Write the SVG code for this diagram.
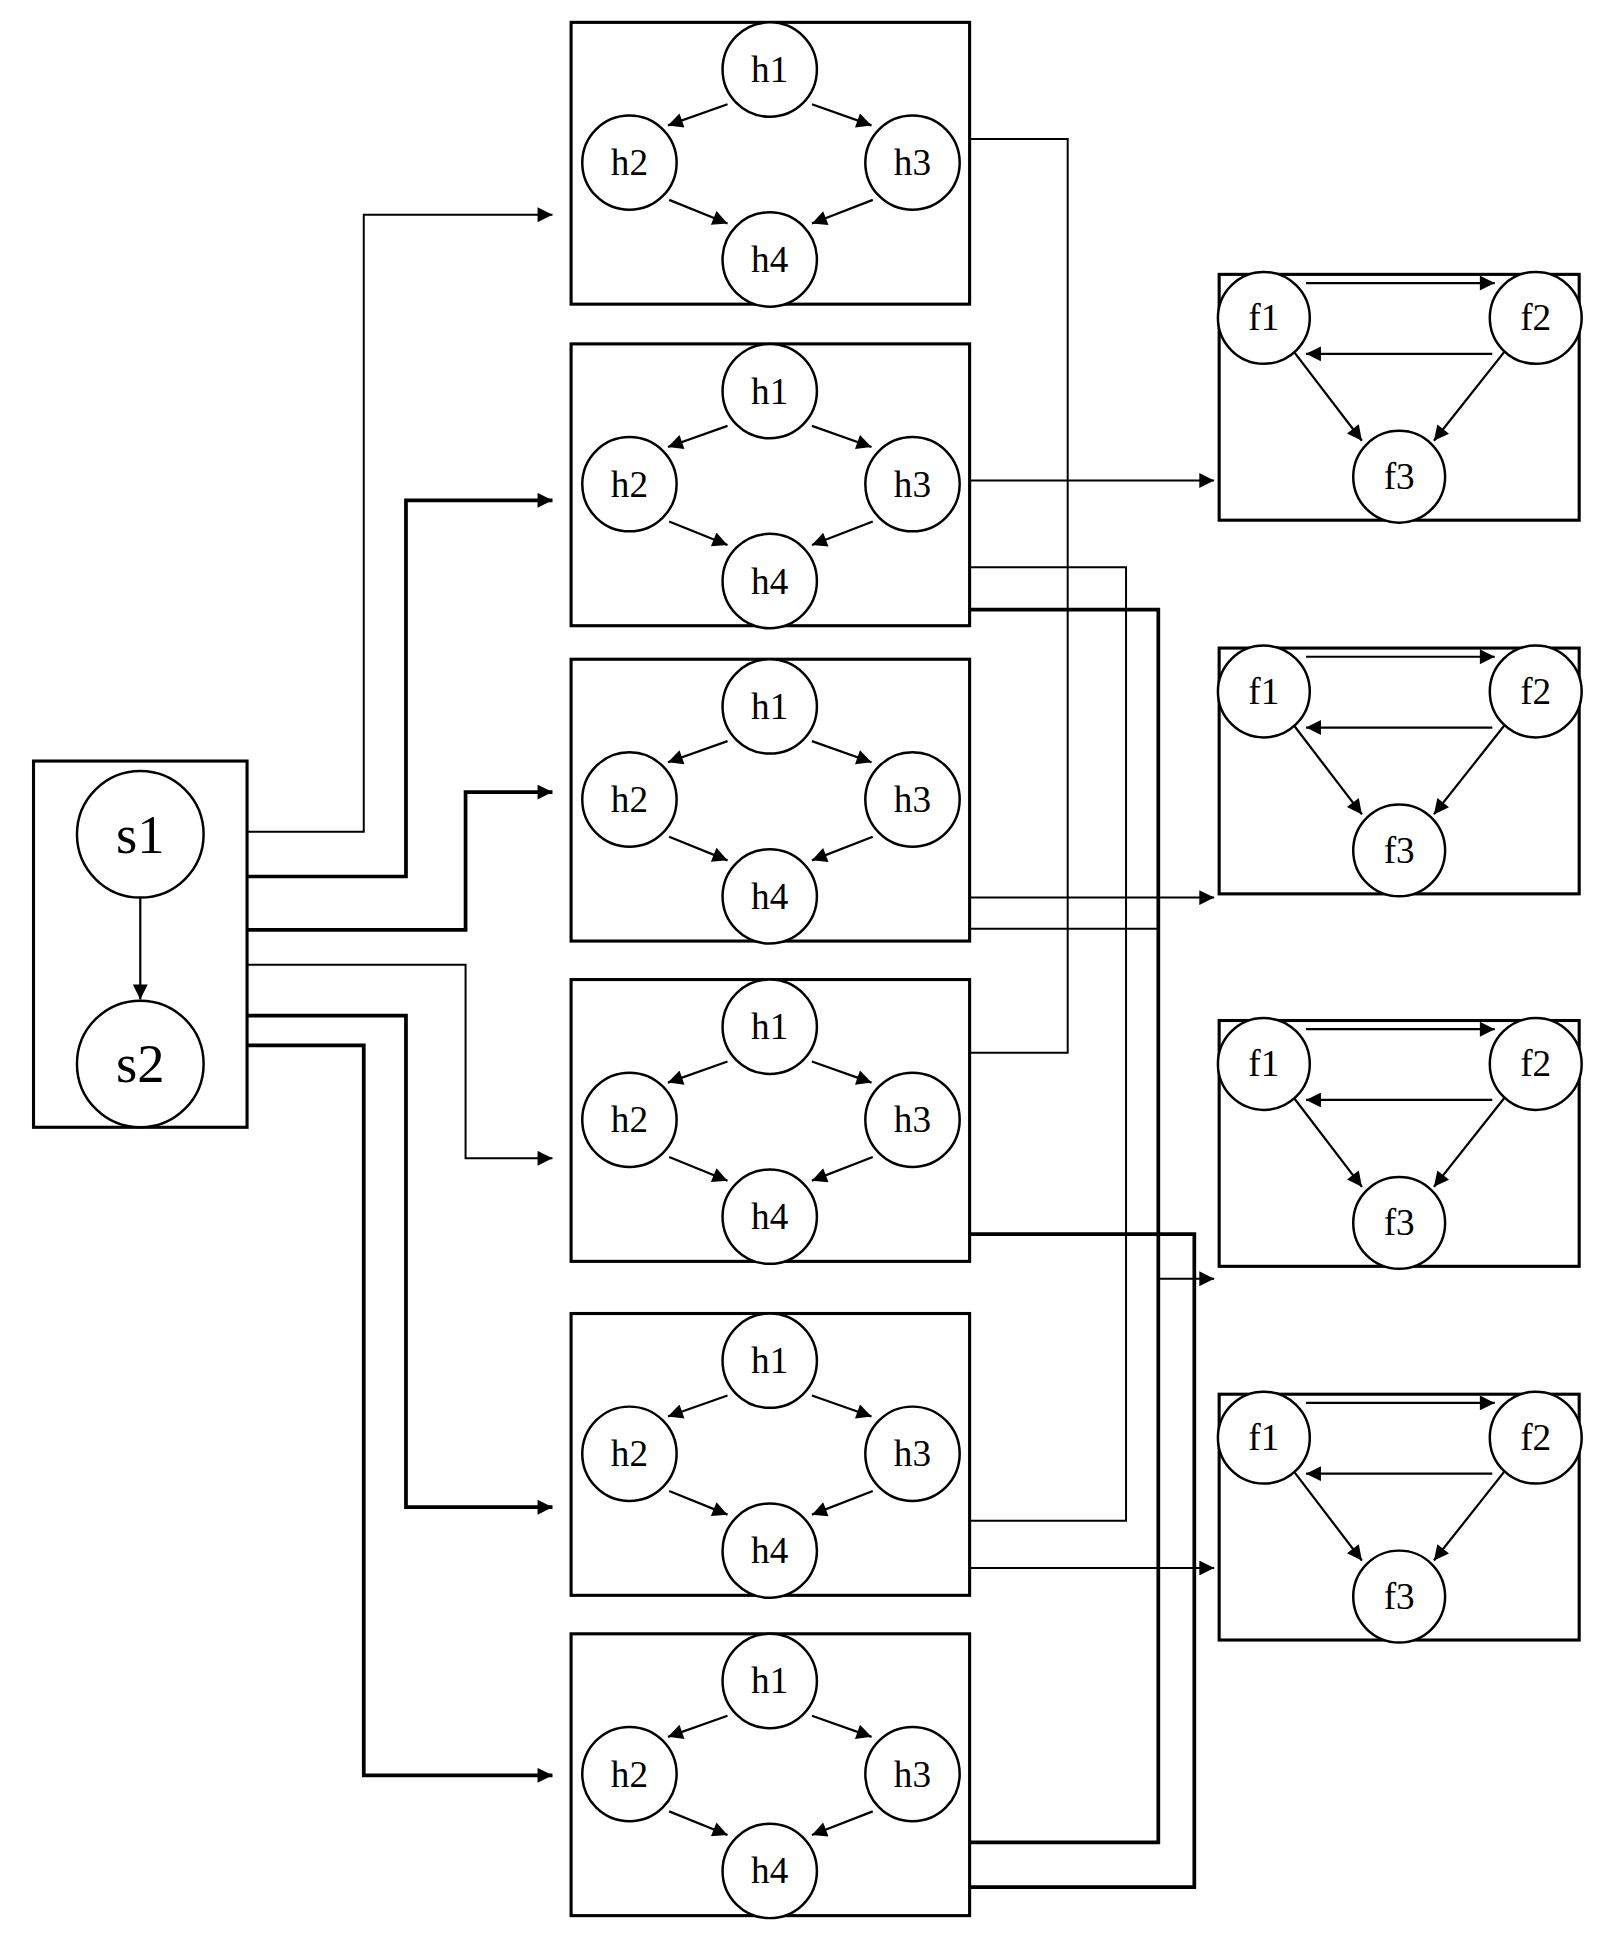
<svg xmlns="http://www.w3.org/2000/svg" width="1614" height="1954" viewBox="0 0 1614 1954">
<style>
.box{fill:none;stroke:#000;stroke-width:2.5}
.nd{fill:#fff;stroke:#000;stroke-width:2}
.t{font-family:"Liberation Serif",serif;font-size:30px;text-anchor:middle;dominant-baseline:central}
.ts{font-family:"Liberation Serif",serif;font-size:44px;text-anchor:middle;dominant-baseline:central}
.e{fill:none;stroke:#000;stroke-width:1.8;marker-end:url(#a)}
.c{fill:none;stroke:#000;stroke-width:1.6}
.ck{fill:none;stroke:#000;stroke-width:3}
</style>
<defs>
<marker id="a" viewBox="0 0 10 10" refX="10" refY="5" markerWidth="17" markerHeight="12" markerUnits="userSpaceOnUse" orient="auto"><path d="M0,0L10,5L0,10z"/></marker>
<marker id="b" viewBox="0 0 10 10" refX="10" refY="5" markerWidth="17" markerHeight="12" markerUnits="userSpaceOnUse" orient="auto"><path d="M0,0L10,5L0,10z"/></marker>
<g id="H">
<rect class="box" x="0" y="0" width="321" height="227"/>
<line class="e" x1="126" y1="66" x2="78" y2="83"/>
<line class="e" x1="194" y1="66" x2="242" y2="83"/>
<line class="e" x1="79" y1="143" x2="126" y2="162"/>
<line class="e" x1="243" y1="143" x2="194" y2="162"/>
<circle class="nd" cx="160" cy="38" r="38"/><text class="t" x="160" y="38">h1</text>
<circle class="nd" cx="47" cy="113" r="38"/><text class="t" x="47" y="113">h2</text>
<circle class="nd" cx="275" cy="113" r="38"/><text class="t" x="275" y="113">h3</text>
<circle class="nd" cx="160" cy="191" r="38"/><text class="t" x="160" y="191">h4</text>
</g>
<g id="F">
<rect class="box" x="0" y="0" width="290" height="198"/>
<line class="e" x1="70" y1="7" x2="222" y2="7"/>
<line class="e" x1="220" y1="64" x2="70" y2="64"/>
<line class="e" x1="60" y1="62" x2="115" y2="134"/>
<line class="e" x1="230" y1="62" x2="173" y2="134"/>
<circle class="nd" cx="36" cy="35" r="37"/><text class="t" x="36" y="35">f1</text>
<circle class="nd" cx="255" cy="35" r="37"/><text class="t" x="255" y="35">f2</text>
<circle class="nd" cx="145" cy="163" r="37"/><text class="t" x="145" y="163">f3</text>
</g>
</defs>
<g transform="scale(1.2415)">
<g id="s">
<rect class="box" x="27" y="613" width="172" height="295"/>
<line class="e" x1="113" y1="722" x2="113" y2="805"/>
<circle class="nd" cx="113" cy="672" r="51"/><text class="ts" x="113" y="672">s1</text>
<circle class="nd" cx="113" cy="857" r="51"/><text class="ts" x="113" y="857">s2</text>
</g>
<g id="h-1"><use href="#H" x="460" y="18"/></g>
<g id="h-2"><use href="#H" x="460" y="277"/></g>
<g id="h-3"><use href="#H" x="460" y="531"/></g>
<g id="h-4"><use href="#H" x="460" y="789"/></g>
<g id="h-5"><use href="#H" x="460" y="1058"/></g>
<g id="h-6"><use href="#H" x="460" y="1316"/></g>
<g id="f-1"><use href="#F" x="982" y="221"/></g>
<g id="f-2"><use href="#F" x="982" y="522"/></g>
<g id="f-3"><use href="#F" x="982" y="822"/></g>
<g id="f-4"><use href="#F" x="982" y="1123"/></g>
<g id="connectors">
<path class="c" d="M199,670H293V173H445" marker-end="url(#b)"/>
<path class="ck" d="M199,706H327V403H445" marker-end="url(#b)"/>
<path class="ck" d="M199,749H375V638H445" marker-end="url(#b)"/>
<path class="c" d="M199,777H375V933H445" marker-end="url(#b)"/>
<path class="ck" d="M199,818H327V1214H445" marker-end="url(#b)"/>
<path class="ck" d="M199,842H293V1430H445" marker-end="url(#b)"/>
<path class="c" d="M781,112H860V848H781"/>
<path class="c" d="M781,387H978" marker-end="url(#b)"/>
<path class="c" d="M781,457H907V1225H781"/>
<path class="ck" d="M781,491H933V1484H781"/>
<path class="c" d="M781,723H978" marker-end="url(#b)"/>
<path class="c" d="M781,748H933"/>
<path class="ck" d="M781,994H962V1520H781"/>
<path class="c" d="M933,1030H978" marker-end="url(#b)"/>
<path class="c" d="M781,1263H978" marker-end="url(#b)"/>
</g>
</g>
</svg>
